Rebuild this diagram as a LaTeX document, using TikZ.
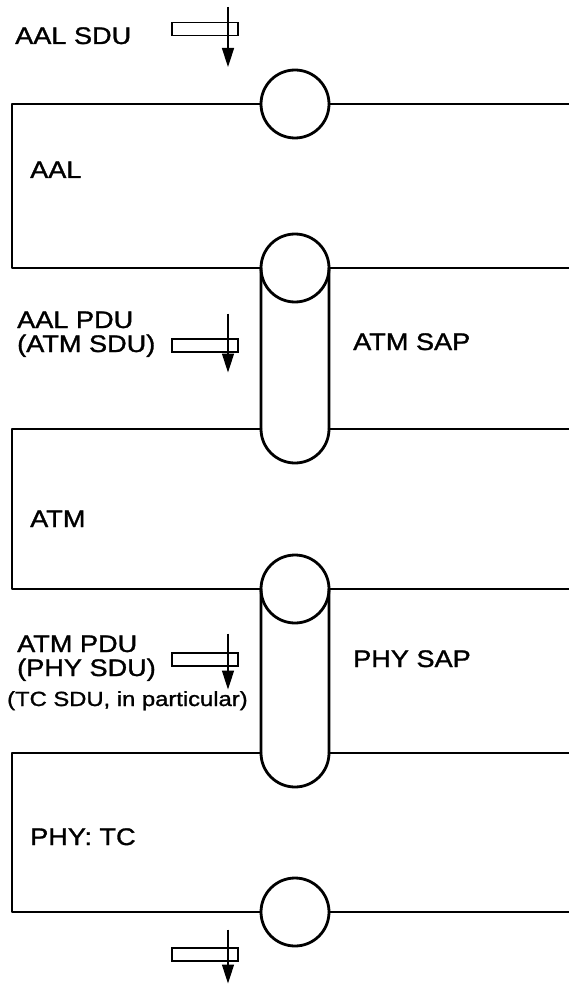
\documentclass[tikz,border=0pt]{standalone}
\usepackage{fontspec}
\setmainfont{Liberation Sans}[FakeBold=1.2]
\usetikzlibrary{arrows.meta}
\newcommand\widetext[1]{\scalebox{1.13}[1]{#1}}
\begin{document}
\begin{tikzpicture}[x=1pt,y=1pt,
  frame/.style={line width=2.8pt, line cap=round, line join=round},
  lbl/.style={anchor=base west, inner sep=0pt, font=\fontsize{24}{28}\selectfont},
  smalllbl/.style={anchor=base west, inner sep=0pt, font=\fontsize{20.5}{24}\selectfont},
  port/.style={circle, draw, line width=2.8pt, minimum size=68pt, inner sep=0pt, outer sep=0pt},
  sdubox/.style={draw, line width=1.7pt},
  sduarrow/.style={line width=1.5pt, -{Triangle[length=19pt,width=12pt]}},
  sdu above/.initial=22,
  sdu below/.initial=38,
  sdusym/.pic={
    \draw[sdubox] (-56,-6.5) rectangle (10,6.5);
    \draw[sduarrow] (0,\pgfkeysvalueof{/tikz/sdu above}) -- (0,-\pgfkeysvalueof{/tikz/sdu below});
  }
]
\useasboundingbox (0,0) rectangle (568,-984);
\fill[white] (0,0) rectangle (568,-984);

% service access points
\node[port] (c1) at (295,-104) {};
\node[port] (cap1) at (295,-268) {};
\node[port] (cap2) at (295,-589) {};
\node[port] (c4) at (295,-912) {};

\coordinate (cap1bl) at (261,-429);
\coordinate (cap1br) at (329,-429);
\coordinate (cap2bl) at (261,-753);
\coordinate (cap2br) at (329,-753);

% capsules
\draw[frame] (cap1.west) -- (cap1bl) arc[start angle=180,end angle=360,radius=34] -- (cap1.east);
\draw[frame] (cap2.west) -- (cap2bl) arc[start angle=180,end angle=360,radius=34] -- (cap2.east);

% AAL layer
\draw[frame] (c1.west) -- (12,-104) -- (12,-268) -- (cap1.west);
\draw[frame] (c1.east) -- (570,-104);
\draw[frame] (cap1.east) -- (570,-268);
% ATM layer
\draw[frame] (cap1bl) -- (12,-429) -- (12,-589) -- (cap2.west);
\draw[frame] (cap1br) -- (570,-429);
\draw[frame] (cap2.east) -- (570,-589);
% PHY layer
\draw[frame] (cap2bl) -- (12,-753) -- (12,-912) -- (c4.west);
\draw[frame] (cap2br) -- (570,-753);
\draw[frame] (c4.east) -- (570,-912);

% labels
\node[lbl] (aalsdu) at (15,-44) {\widetext{AAL SDU}};
\node[lbl] (aal) at (30,-178) {\widetext{AAL}};
\node[lbl] (aalpdu) at (17,-328) {\widetext{AAL PDU}};
\node[lbl] (atmsdu) at (17,-352) {\widetext{(ATM SDU)}};
\node[lbl] (atmsap) at (353,-350) {\widetext{ATM SAP}};
\node[lbl] (atm) at (30,-527) {\widetext{ATM}};
\node[lbl] (atmpdu) at (17,-652) {\widetext{ATM PDU}};
\node[lbl] (physdu) at (17,-676) {\widetext{(PHY SDU)}};
\node[smalllbl] (tcsdu) at (7,-706) {\scalebox{1.16}[1]{(TC SDU, in particular)}};
\node[lbl] (physap) at (353,-667) {\widetext{PHY SAP}};
\node[lbl] (phytc) at (30,-845) {\widetext{PHY: TC}};

% SDU symbols
\pic (s1) at (228,-29) {sdusym};
\pic[sdu above=32, sdu below=27] (s2) at (228,-345.5) {sdusym};
\pic[sdu above=26, sdu below=30] (s3) at (228,-659.5) {sdusym};
\pic[sdu above=25, sdu below=29] (s4) at (228,-954.5) {sdusym};
\end{tikzpicture}
\end{document}
